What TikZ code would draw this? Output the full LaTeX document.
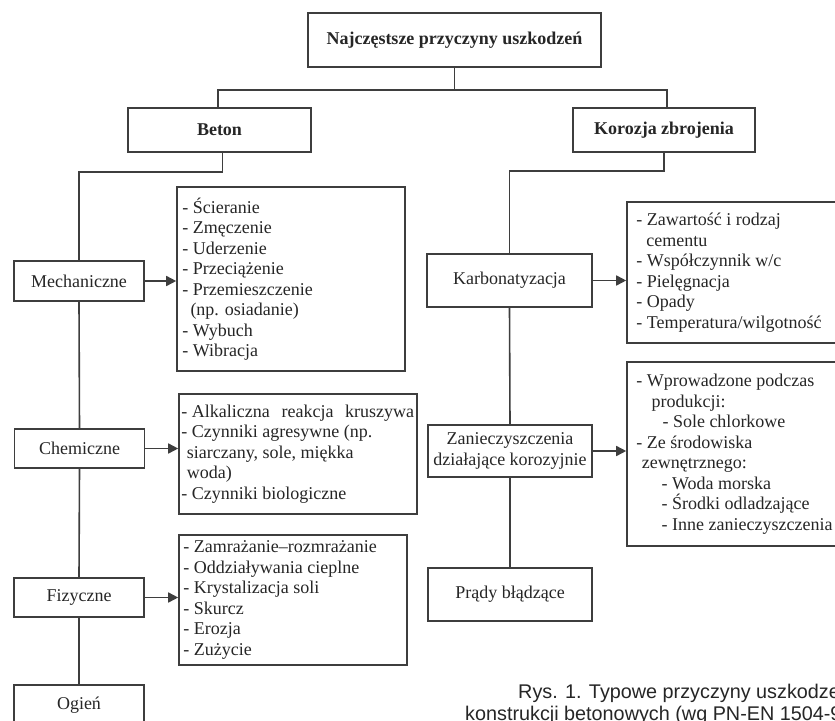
\documentclass[tikz,border=0pt]{standalone}
\usepackage{fontspec}
\setmainfont{Liberation Serif}
\newfontfamily\capfont{Liberation Sans}
\usetikzlibrary{arrows.meta}
\definecolor{linec}{RGB}{62,62,62}
\definecolor{txt}{RGB}{38,38,38}
\tikzset{
  box/.style={draw=linec, line width=1.6pt, fill=white, text=txt, inner sep=0pt, font=\fontsize{18}{21.5}\selectfont},
  catbox/.style={box, font=\bfseries\fontsize{18}{21.5}\selectfont},
  listbox/.style={draw=linec, line width=1.6pt, inner sep=0pt},
  listtext/.style={anchor=west, align=left, inner sep=0pt, text=txt, font=\fontsize{18}{20.5}\selectfont},
  conn/.style={draw=linec, line width=1.6pt},
  arr/.style={conn, -{Triangle[length=10pt,width=10pt]}},
  captext/.style={anchor=base west, inner sep=0pt, text=txt, font=\capfont\fontsize{19.8}{22}\selectfont}
}
\begin{document}
\begin{tikzpicture}[x=1pt,y=-1pt]
\useasboundingbox (0,0) rectangle (835,720);
\clip (0,0) rectangle (835,720);
\fill[white] (0,0) rectangle (835,720);

% top level
\node[catbox, minimum width=293pt, minimum height=54pt] (top) at (454.5,40) {Najczęstsze przyczyny uszkodzeń};
\node[catbox, minimum width=183pt, minimum height=44pt] (beton) at (219.5,130) {Beton};
\node[catbox, minimum width=182pt, minimum height=44pt] (koroz) at (664,130) {Korozja zbrojenia};
\coordinate (bus) at (454.5,90);

% left column
\node[box, minimum width=130pt, minimum height=40pt] (mech) at (79,281) {Mechaniczne};
\node[box, minimum width=130pt, minimum height=39pt] (chem) at (79.5,448.5) {Chemiczne};
\node[box, minimum width=130pt, minimum height=39pt] (fiz) at (79,597.5) {Fizyczne};
\node[box, minimum width=130pt, minimum height=40pt] (ogien) at (79,705) {Ogień};

% right column
\node[box, minimum width=165pt, minimum height=53pt] (karb) at (509.5,280.5) {Karbonatyzacja};
\node[box, minimum width=164pt, minimum height=52pt, align=center] (zan) at (510,451) {Zanieczyszczenia\\działające korozyjnie};
\node[box, minimum width=164pt, minimum height=53pt] (prady) at (510,594.5) {Prądy błądzące};

% lists
\node[listbox, minimum width=228pt, minimum height=184pt] (mechlist) at (291,279) {};
\node[listtext] (mechtxt) at ([xshift=6pt]mechlist.west) {- Ścieranie\\- Zmęczenie\\- Uderzenie\\- Przeciążenie\\- Przemieszczenie\\\hspace{0.45em}(np. osiadanie)\\- Wybuch\\- Wibracja};

\node[listbox, minimum width=238pt, minimum height=120pt] (chemlist) at (298,454) {};
\node[listtext] (chemtxt) at ([xshift=3pt]chemlist.west) {- Alkaliczna\hspace{0.4em} reakcja\hspace{0.4em} kruszywa\\- Czynniki agresywne (np.\\\hspace{0.3em}siarczany, sole, miękka\\\hspace{0.3em}woda)\\- Czynniki biologiczne};

\node[listbox, minimum width=228pt, minimum height=130pt] (fizlist) at (293,600) {};
\node[listtext] (fiztxt) at ([xshift=5pt]fizlist.west) {- Zamrażanie–rozmrażanie\\- Oddziaływania cieplne\\- Krystalizacja soli\\- Skurcz\\- Erozja\\- Zużycie};

\node[listbox, minimum width=223pt, minimum height=141pt] (karblist) at (738.5,272.5) {};
\node[listtext] (karbtxt) at ([xshift=10pt]karblist.west) {- Zawartość i rodzaj\\\hspace{0.55em}cementu\\- Współczynnik w/c\\- Pielęgnacja\\- Opady\\- Temperatura/wilgotność};

\node[listbox, minimum width=223pt, minimum height=184pt] (zanlist) at (738.5,454) {};
\node[listtext] (zantxt) at ([xshift=10pt]zanlist.west) {- Wprowadzone podczas\\\hspace{0.85em}produkcji:\\\hspace{1.45em}- Sole chlorkowe\\- Ze środowiska\\\hspace{0.3em}zewnętrznego:\\\hspace{1.4em}- Woda morska\\\hspace{1.4em}- Środki odladzające\\\hspace{1.4em}- Inne zanieczyszczenia};

% connectors
\draw[conn] (top.south) -- (bus);
\draw[conn] ([xshift=-1.5pt]beton.north) |- (bus) -| ([xshift=3pt]koroz.north);
\draw[conn] ([xshift=3pt]beton.south) -- ++(0,19) -| (mech.north);
\draw[conn] (mech.south) -- (chem.north);
\draw[conn] (chem.south) -- (fiz.north);
\draw[conn] (fiz.south) -- (ogien.north);
\draw[conn] (koroz.south) -- ++(0,18) -| (karb.north);
\draw[conn] (karb.south) -- (zan.north);
\draw[conn] (zan.south) -- (prady.north);

\draw[arr] (mech.east) -- (mech.east -| mechlist.west);
\draw[arr] (chem.east) -- (chem.east -| chemlist.west);
\draw[arr] (fiz.east) -- (fiz.east -| fizlist.west);
\draw[arr] (karb.east) -- (karb.east -| karblist.west);
\draw[arr] (zan.east) -- (zan.east -| zanlist.west);

% caption
\node[captext] (cap1) at (518,698) {Rys. 1. Typowe przyczyny uszkodzeń};
\node[captext] (cap2) at (465,720) {konstrukcji betonowych (wg PN-EN 1504-9)};
\end{tikzpicture}
\end{document}
